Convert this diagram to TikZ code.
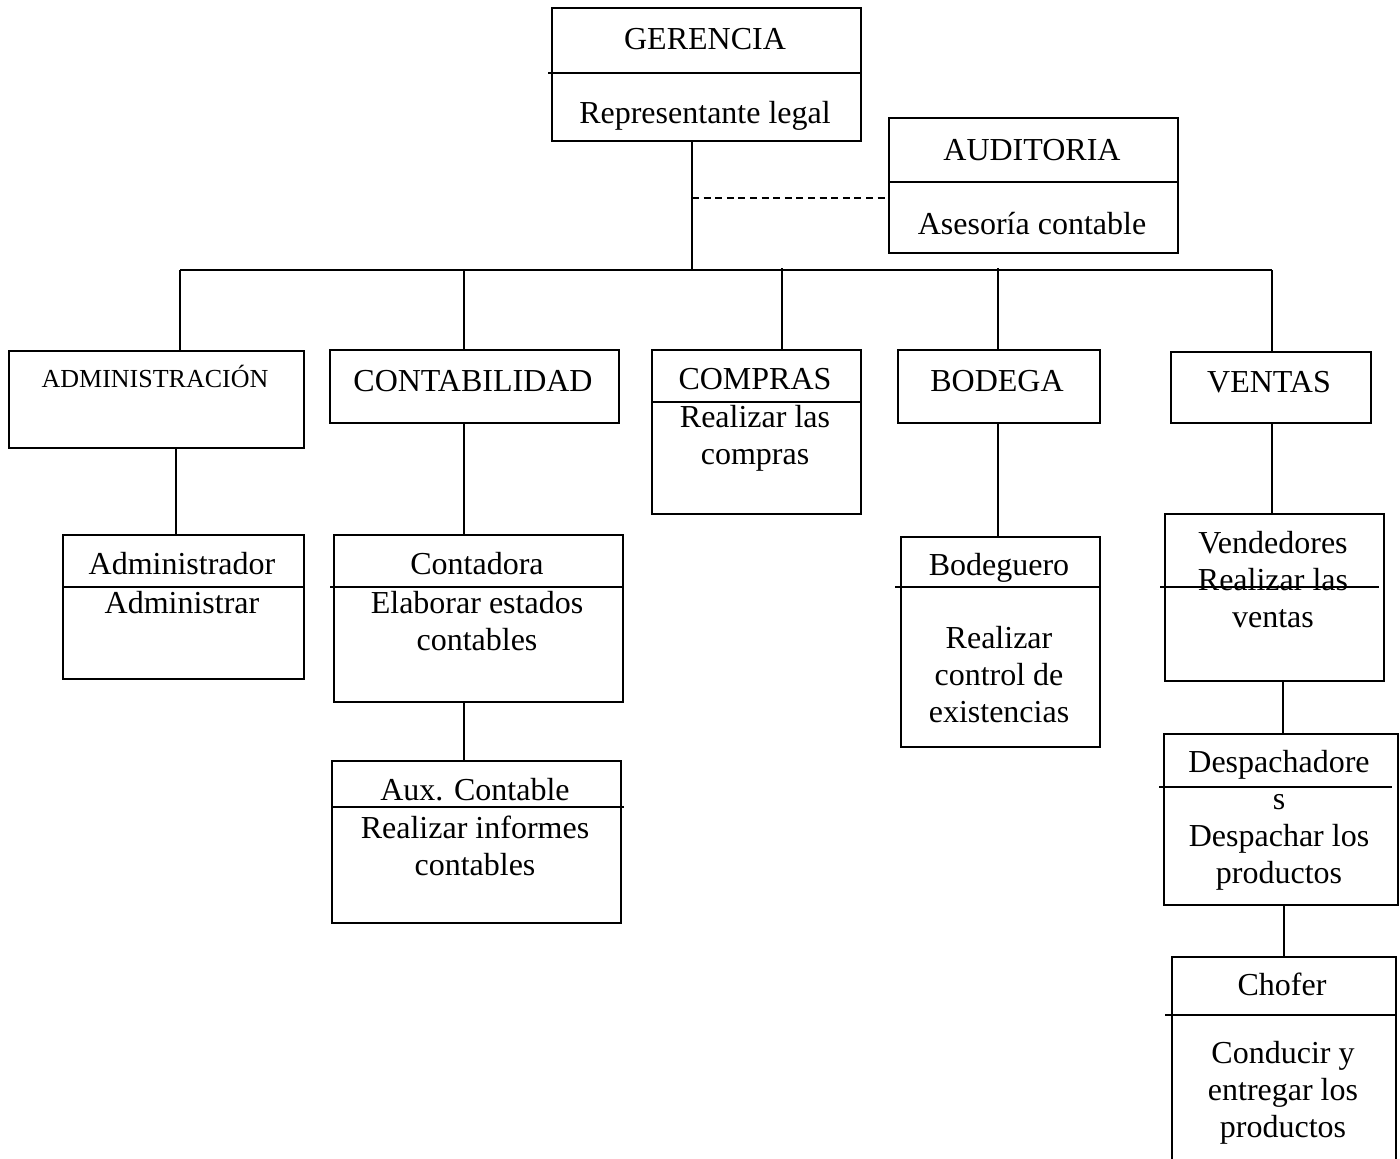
\documentclass[tikz,border=0pt]{standalone}
\usepackage{fontspec}
\setmainfont{Liberation Serif}
\begin{document}
\begin{tikzpicture}[x=1pt,y=-1pt,
  rule/.style={line width=1.6pt},
  box/.style={draw, rule, inner sep=0pt, anchor=north west},
  lbl/.style={font=\fontsize{32}{37}\selectfont, align=center, anchor=base, inner sep=0pt},
  small/.style={font=\fontsize{26}{30}\selectfont, anchor=base, inner sep=0pt},
  link/.style={rule},
  aux link/.style={rule, dash pattern=on 7pt off 4.6pt}]
\fill[white] (0,0) rectangle (1400,1159);
\useasboundingbox (0,0) rectangle (1400,1159);

% ---- boxes ----
\node[box, minimum width=309pt, minimum height=133pt] (ger)  at (551,7)   {};
\node[box, minimum width=289pt, minimum height=135pt] (aud)  at (888,117) {};
\node[box, minimum width=295pt, minimum height=97pt]  (adm)  at (8,350)   {};
\node[box, minimum width=289pt, minimum height=73pt]  (cont) at (329,349) {};
\node[box, minimum width=209pt, minimum height=164pt] (comp) at (651,349) {};
\node[box, minimum width=202pt, minimum height=73pt]  (bod)  at (897,349) {};
\node[box, minimum width=200pt, minimum height=71pt]  (ven)  at (1170,351) {};
\node[box, minimum width=241pt, minimum height=144pt] (admr) at (62,534)  {};
\node[box, minimum width=289pt, minimum height=167pt] (ctd)  at (333,534) {};
\node[box, minimum width=289pt, minimum height=162pt] (aux)  at (331,760) {};
\node[box, minimum width=199pt, minimum height=210pt] (bodg) at (900,536) {};
\node[box, minimum width=219pt, minimum height=167pt] (vend) at (1164,513) {};
\node[box, minimum width=234pt, minimum height=171pt] (desp) at (1163,733) {};
\node[box, minimum width=224pt, minimum height=220pt] (chof) at (1171,956) {};

% ---- dividers inside the boxes ----
\draw[rule] (548,73)   -- (ger.east |- 0,73);
\draw[rule] (aud.west |- 0,182) -- (aud.east |- 0,182);
\draw[rule] (comp.west |- 0,402) -- (comp.east |- 0,402);
\draw[rule] (admr.west |- 0,587) -- (admr.east |- 0,587);
\draw[rule] (330,587)  -- (ctd.east |- 0,587);
\draw[rule] (aux.west |- 0,807) -- (624,807);
\draw[rule] (895,587)  -- (bodg.east |- 0,587);
\draw[rule] (1160,587) -- (1379,587);
\draw[rule] (1159,787) -- (1392,787);
\draw[rule] (1165,1015) -- (chof.east |- 0,1015);

% ---- texts (a multi-line label sits on the baseline of its last line) ----
\node[lbl] (tger)  at (705,49)   {GERENCIA};
\node[lbl] (tgerb) at (705,123)  {Representante legal};
\node[lbl] (taud)  at (1032,160) {AUDITORIA};
\node[lbl] (taudb) at (1032,234) {Asesoría contable};
\node[small] (tadm) at (155,387) {ADMINISTRACIÓN};
\node[lbl] (tcont) at (473,391)  {CONTABILIDAD};
\node[lbl] (tcomp) at (755,389)  {COMPRAS};
\node[lbl] (tcompb) at (755,464) {Realizar las\\compras};
\node[lbl] (tbod)  at (997,391)  {BODEGA};
\node[lbl] (tven)  at (1269,392) {VENTAS};
\node[lbl] (tadmr) at (182,574)  {Administrador};
\node[lbl] (tadmrb) at (182,613) {Administrar};
\node[lbl] (tctd)  at (477,574)  {Contadora};
\node[lbl] (tctdb) at (477,650)  {Elaborar estados\\contables};
\node[lbl] (taux)  at (475,800)  {Aux. Contable};
\node[lbl] (tauxb) at (475,875)  {Realizar informes\\contables};
\node[lbl] (tbodg) at (999,575)  {Bodeguero};
\node[lbl] (tbodgb) at (999,722) {Realizar\\control de\\existencias};
\node[lbl] (tvend) at (1273,627) {Vendedores\\Realizar las\\ventas};
\node[lbl] (tdesp) at (1279,883) {Despachadore\\s\\Despachar los\\productos};
\node[lbl] (tchof) at (1282,995) {Chofer};
\node[lbl] (tchofb) at (1283,1137) {Conducir y\\entregar los\\productos};

% ---- connectors ----
\coordinate (jG) at (692,270);
\coordinate (jA) at (180,270);
\coordinate (jC) at (464,270);
\coordinate (jP) at (782,268);
\coordinate (jB) at (998,268);
\coordinate (jV) at (1272,270);
\coordinate (jD) at (692,198);

\draw[link] (ger.south -| jG) -- (jG);
\draw[link] (jA) -- (jV);
\draw[aux link] (jD) -- (aud.west |- jD);
\draw[link] (jA) -- (jA |- adm.north);
\draw[link] (jC) -- (jC |- cont.north);
\draw[link] (jP) -- (jP |- comp.north);
\draw[link] (jB) -- (jB |- bod.north);
\draw[link] (jV) -- (jV |- ven.north);

\draw[link] (adm.south -| 176,0) -- (admr.north -| 176,0);
\draw[link] (cont.south -| jC) -- (ctd.north -| jC);
\draw[link] (ctd.south -| jC) -- (aux.north -| jC);
\draw[link] (bod.south -| jB) -- (bodg.north -| jB);
\draw[link] (ven.south -| jV) -- (vend.north -| jV);
\draw[link] (vend.south -| 1283,0) -- (desp.north -| 1283,0);
\draw[link] (desp.south -| 1284,0) -- (chof.north -| 1284,0);
\end{tikzpicture}
\end{document}
